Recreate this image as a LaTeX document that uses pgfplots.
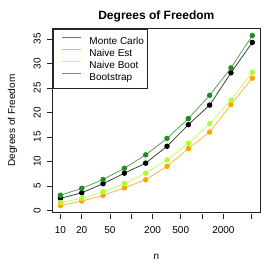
\documentclass[border=0pt]{standalone}
\usepackage{fontspec}
\setmainfont{Liberation Sans}
\usepackage{pgfplots}
\pgfplotsset{compat=1.18}
\definecolor{mcpt}{HTML}{000000}
\definecolor{mcline}{HTML}{404040}
\definecolor{mcleg}{HTML}{707070}
\definecolor{estpt}{HTML}{FFA500}
\definecolor{estline}{HTML}{FFB545}
\definecolor{bootpt}{HTML}{ADFF2F}
\definecolor{bootline}{HTML}{C4FF6A}
\definecolor{bspt}{HTML}{228B22}
\definecolor{bsline}{HTML}{4FAA4F}
\begin{document}
\begin{tikzpicture}
\begin{axis}[
  scale only axis, width=207.3pt, height=183.6pt,
  xmode=log, xmin=7.78, xmax=6577, ymin=-0.39, ymax=37.1,
  font=\fontsize{10}{12}\selectfont,
  axis line style={line width=0.7pt, black!85},
  tick align=outside, xtick pos=bottom, ytick pos=left,
  major tick length=5.5pt,
  tick style={line width=0.7pt, black!85},
  xtick={10,20,50,100,200,500,1000,2000,5000},
  xticklabels={10,20,50,,200,500,,2000,},
  xminorticks=false,
  ytick={0,5,10,15,20,25,30,35},
  /pgf/number format/assume math mode=true,
  xtick style={yshift=-1.7pt, /pgfplots/major tick length=5pt},
  xticklabel style={anchor=base, inner sep=0pt},
  xticklabel shift=15.5pt,
  yticklabel style={rotate=90, anchor=south, inner sep=0pt},
  yticklabel shift=6.4pt,
  title={\bfseries Degrees of Freedom},
  every axis title shift=0pt,
  title style={at={(axis description cs:0.5,1.0512)}, anchor=base, yshift=0pt, inner sep=0pt, font=\fontsize{12}{14}\selectfont},
  xlabel={n},
  xlabel style={at={(axis description cs:0.5,-0.2576)}, anchor=base, inner sep=0pt},
  ylabel={Degrees of Freedom},
  ylabel style={at={(axis description cs:-0.1814,0.5)}, anchor=base, inner sep=0pt},
  legend style={at={(0,1)}, anchor=north west, draw=black!85, line width=0.7pt,
    inner xsep=0pt, inner ysep=6.2pt, row sep=0pt, column sep=0pt,
    font=\fontsize{10}{12}\selectfont,
    nodes={inner sep=0pt, text height=9.5pt, text depth=2.3pt}},
  legend cell align=left,
]
\addplot[draw=mcline, line width=0.8pt, mark=*, mark size=2.3pt, mark options={draw=mcpt, fill=mcpt},
  legend image code/.code={\path (0pt,0pt) (35.6pt,0pt); \draw[draw=mcleg, line width=0.8pt] (9pt,3.6pt) -- (27.3pt,3.6pt);}] coordinates {
(10,2.45) (20,3.6) (40,5.44) (80,7.6) (160,9.65) (320,13.1) (640,17.5) (1280,21.5) (2560,28.1) (5120,34.3)};
\addlegendentry{\makebox[58.4pt][l]{Monte Carlo}}
\addplot[draw=estline, line width=0.8pt, mark=*, mark size=2.3pt, mark options={draw=estpt, fill=estpt},
  legend image code/.code={\path (0pt,0pt) (35.6pt,0pt); \draw[draw=estline, line width=0.8pt] (9pt,3.6pt) -- (27.3pt,3.6pt);}] coordinates {
(10,1.0) (20,1.9) (40,3.06) (80,4.6) (160,6.25) (320,9.0) (640,12.6) (1280,16.0) (2560,21.6) (5120,27.0)};
\addlegendentry{\makebox[58.4pt][l]{Naive Est}}
\addplot[draw=bootline, line width=0.8pt, mark=*, mark size=2.3pt, mark options={draw=bootpt, fill=bootpt},
  legend image code/.code={\path (0pt,0pt) (35.6pt,0pt); \draw[draw=bootline, line width=0.8pt] (9pt,3.6pt) -- (27.3pt,3.6pt);}] coordinates {
(10,1.6) (20,2.45) (40,3.8) (80,5.5) (160,7.6) (320,10.3) (640,13.7) (1280,17.7) (2560,22.5) (5120,28.2)};
\addlegendentry{\makebox[58.4pt][l]{Naive Boot}}
\addplot[draw=bsline, line width=0.8pt, mark=*, mark size=2.3pt, mark options={draw=bspt, fill=bspt},
  legend image code/.code={\path (0pt,0pt) (35.6pt,0pt); \draw[draw=bsline, line width=0.8pt] (9pt,3.6pt) -- (27.3pt,3.6pt);}] coordinates {
(10,3.1) (20,4.5) (40,6.3) (80,8.6) (160,11.35) (320,14.7) (640,18.75) (1280,23.5) (2560,29.1) (5120,35.7)};
\addlegendentry{\makebox[58.4pt][l]{Bootstrap}}
\end{axis}
\pgfresetboundingbox
\path[use as bounding box] ([shift={(-52.7pt,-53.7pt)}]current axis.south west) rectangle ([shift={(213.3pt,212.3pt)}]current axis.south west);
\end{tikzpicture}
\end{document}
